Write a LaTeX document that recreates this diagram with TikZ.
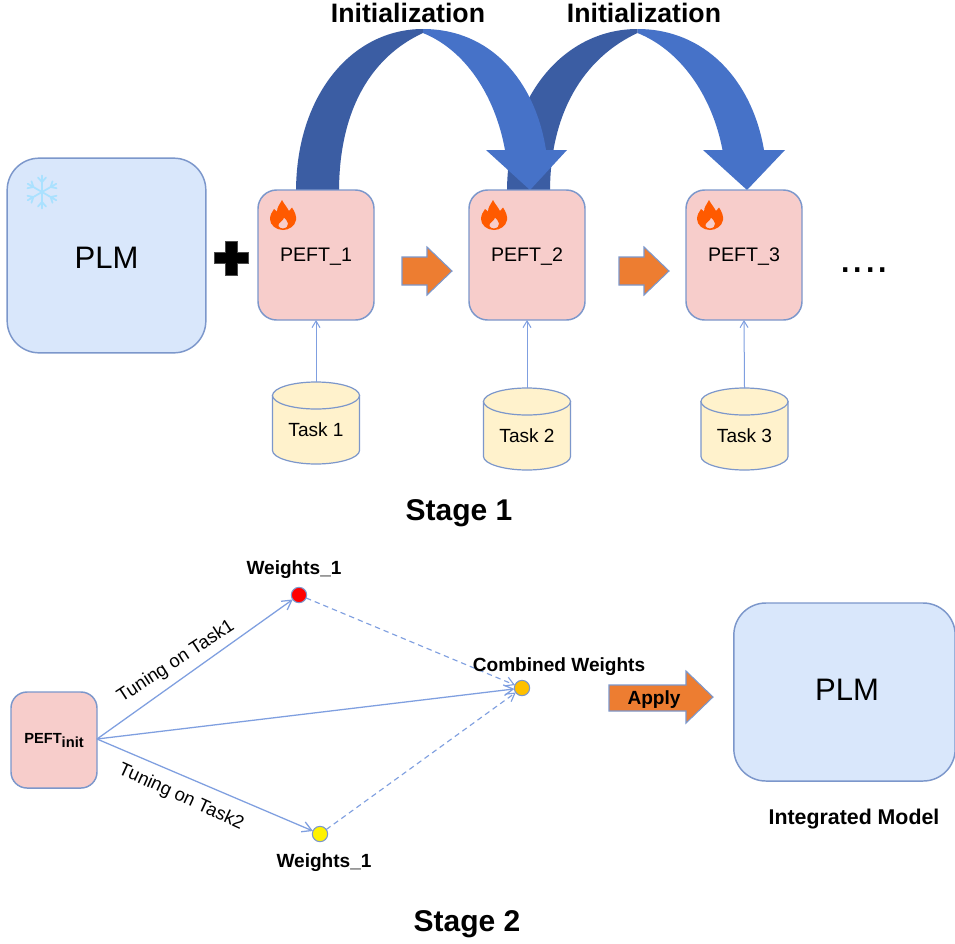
\documentclass[tikz,border=0pt]{standalone}
\usepackage{fontspec}
\setmainfont{Liberation Sans}
\usetikzlibrary{arrows.meta,calc}
\definecolor{edgeblue}{HTML}{7C97CB}
\definecolor{lineblue}{HTML}{7F9FE0}
\definecolor{plmfill}{HTML}{D9E7FB}
\definecolor{peftfill}{HTML}{F7CDCB}
\definecolor{taskfill}{HTML}{FFF2CC}
\definecolor{darkarc}{HTML}{3B5DA3}
\definecolor{lightarc}{HTML}{4672C8}
\definecolor{orangearrow}{HTML}{ED7D31}
\newcommand{\nudge}[2]{\raisebox{#1}[\height][\depth]{#2}}
\tikzset{
  px/.style={inner sep=0pt,outer sep=0pt},
  plmbox/.style={px,draw=edgeblue,fill=plmfill,line width=1.1pt,rounded corners=24pt,minimum width=149pt},
  peftbox/.style={px,draw=edgeblue,fill=peftfill,line width=1.1pt,rounded corners=14pt,minimum width=87pt,minimum height=97.5pt,font=\fontsize{14.7}{17}\selectfont},
  drumline/.style={draw=edgeblue,fill=taskfill,line width=0.9pt},
  tasklabel/.style={px,font=\fontsize{14.3}{17}\selectfont},
  feed/.style={draw=lineblue,line width=0.75pt,-{Straight Barb[length=5pt,width=6pt]}},
  tuned/.style={draw=lineblue,line width=0.95pt,-{Straight Barb[length=7pt,width=8pt]}},
  dashedlink/.style={draw=lineblue,line width=0.85pt,dash pattern=on 4pt off 3pt,-{Straight Barb[length=6pt,width=7pt]}},
  dotnode/.style={circle,px,draw=edgeblue,line width=0.8pt,minimum size=11.5pt},
  boldlabel/.style={px,yshift=-1.5pt,font=\bfseries\fontsize{14.3}{17}\selectfont},
  tunelabel/.style={px,font=\fontsize{13.9}{17}\selectfont},
  stagelabel/.style={px,yshift=-2.2pt,font=\bfseries\fontsize{22.5}{27}\selectfont},
  initlabel/.style={px,font=\bfseries\fontsize{20}{24}\selectfont},
  bigarrow/.style={draw=edgeblue,fill=orangearrow,line width=0.8pt,line join=miter},
  flame/.pic={
    \fill[even odd rule,fill={rgb,255:red,255;green,90;blue,0}]
      (-1,-15) .. controls (1,-11) and (4,-8) .. (6,-4)
      .. controls (7,-5) and (8,-6) .. (9,-7.5)
      .. controls (12,-3) and (13.5,1) .. (13,5)
      .. controls (12,11) and (6,15) .. (0,15)
      .. controls (-7,15) and (-13,10) .. (-13,4)
      .. controls (-13,0) and (-11,-3) .. (-9,-6)
      .. controls (-8,-5) and (-7,-4) .. (-6,-3.5)
      .. controls (-6,-8) and (-3,-11) .. (-1,-15) -- cycle
      (0,13.5) .. controls (3.5,13) and (5.5,11) .. (5,8.5)
      .. controls (4.5,6) and (2.5,4) .. (1,2.5)
      .. controls (0.5,4.5) and (-0.5,5.5) .. (-2,6.5)
      .. controls (-4,8) and (-5,10) .. (-4.5,11)
      .. controls (-4,12.5) and (-2,13.5) .. (0,13.5) -- cycle;
  },
  snowarm/.style={draw={rgb,255:red,170;green,225;blue,255},line width=1.3pt,line cap=round},
  snowflake/.pic={
    \foreach \a in {30,90,150,210,270,330}{
      \draw[snowarm,rotate=\a] (0,0) -- (16.5,0) (10,0) -- (14.5,4) (10,0) -- (14.5,-4);
    }
  }
}
% a task drum: centre x, top y, name, text
\newcommand{\taskdrum}[4]{%
  \draw[drumline] (#1-43.5,#2+13.5) -- (#1-43.5,#2+68.5) .. controls (#1-43.5,#2+76) and (#1-23,#2+82) .. (#1,#2+82) .. controls (#1+23,#2+82) and (#1+43.5,#2+76) .. (#1+43.5,#2+68.5) -- (#1+43.5,#2+13.5) -- cycle;
  \draw[drumline] (#1,#2+13.5) ellipse[x radius=43.5,y radius=13.5];
  \coordinate (#3top) at (#1,#2);
  \node[tasklabel] (#3) at (#1,#2+48) {#4};
}
\begin{document}
\begin{tikzpicture}[x=0.75pt,y=-0.75pt]
\useasboundingbox (0,0) rectangle (955,943);
\fill[white] (0,0) rectangle (955,943);

% Initialization arcs: second one first, the first lies over it
\fill[darkarc] (507,192) .. controls (507,95) and (565,29) .. (637.5,29)
  -- (637.5,33) .. controls (590,55) and (550,105) .. (550,192) -- cycle;
\fill[lightarc] (637.5,29) .. controls (705,29) and (752,80) .. (764,150)
  -- (785,150) -- (747,190) -- (703,150) -- (722.5,150)
  .. controls (712,95) and (680,50) .. (637.5,33) -- cycle;
\fill[darkarc] (296,192) .. controls (296,95) and (352,29) .. (423,29)
  -- (423,33) .. controls (375,55) and (339,105) .. (339,192) -- cycle;
\fill[lightarc] (423,29) .. controls (490,29) and (535,80) .. (546,150)
  -- (567,150) -- (530,190) -- (486,150) -- (505,150)
  .. controls (495,95) and (465,50) .. (423,33) -- cycle;
\node[initlabel] (init1) at (408,13) {Initialization};
\node[initlabel] (init2) at (644,13) {Initialization};

% Stage 1
\node[plmbox,minimum height=146pt,font=\fontsize{23.3}{28}\selectfont] (plmA) at (106.5,255.5) {\nudge{-1.5pt}{PLM}};
\pic at (42,192) {snowflake};
\fill[black,draw=black!70,line width=0.3pt] (225,241) -- (237,241) -- (237,252) -- (248,252) -- (248,263) -- (237,263) -- (237,275) -- (225,275) -- (225,263) -- (214,263) -- (214,252) -- (225,252) -- cycle;

\node[peftbox] (peftA) at (316,255) {\nudge{-1.5pt}{PEFT\_1}};
\node[peftbox] (peftB) at (527,255) {\nudge{-1.5pt}{PEFT\_2}};
\node[peftbox] (peftC) at (744,255) {\nudge{-1.5pt}{PEFT\_3}};
\pic at (283,215) {flame};
\pic at (494,215) {flame};
\pic at (710,215) {flame};

\draw[bigarrow] (402,257) -- (427,257) -- (427,247) -- (452,271) -- (427,295) -- (427,285) -- (402,285) -- cycle;
\draw[bigarrow] (619,257) -- (644,257) -- (644,247) -- (669,271) -- (644,295) -- (644,285) -- (619,285) -- cycle;
\node[px,anchor=base,font=\fontsize{33.5}{40}\selectfont] (dots) at (864.3,272) {....};

\taskdrum{316}{382}{taskA}{Task 1}
\taskdrum{527}{388}{taskB}{Task 2}
\taskdrum{744.5}{388}{taskC}{Task 3}
\draw[feed] (taskAtop) -- (peftA.south);
\draw[feed] (taskBtop) -- (peftB.south);
\draw[feed] (taskCtop) -- (peftC.south);
\node[stagelabel] (stageA) at (459,510) {Stage 1};

% Stage 2
\node[peftbox,minimum width=64.5pt,minimum height=72pt,rounded corners=12pt,font=\bfseries\fontsize{11}{13}\selectfont] (pinit) at (54,740) {\nudge{-0.5pt}{PEFT\raisebox{-2.5pt}{init}}};
\node[dotnode,fill=red] (wred) at (299,595) {};
\node[dotnode,fill=yellow] (wyel) at (320,834) {};
\node[dotnode,fill={rgb,255:red,255;green,192;blue,0}] (wcomb) at (522,688) {};
\coordinate (src) at (97,739);
\draw[tuned] (src) -- (wred);
\draw[tuned] (src) -- (wyel);
\draw[tuned] (src) -- (wcomb);
\draw[dashedlink] (wred) -- (wcomb);
\draw[dashedlink] (wyel) -- (wcomb);
\node[boldlabel] (lblW) at (294,568) {Weights\_1};
\node[boldlabel] (lblY) at (324,861) {Weights\_1};
\node[boldlabel] (lblC) at (559,665) {Combined Weights};
\node[tunelabel,rotate=33] (lblT) at (176,662) {Tuning on Task1};
\node[tunelabel,rotate=-24.5] (lblU) at (181,797) {Tuning on Task2};
\draw[bigarrow] (609,685) -- (686,685) -- (686,671) -- (713,697) -- (686,723) -- (686,711) -- (609,711) -- cycle;
\node[boldlabel] (applyl) at (654,698) {Apply};
\node[plmbox,minimum width=166pt,minimum height=133.5pt] (plmB) at (844.5,692) {};
\node[px,font=\fontsize{23.3}{28}\selectfont] (plmBt) at (847,690) {PLM};
\node[boldlabel,font=\bfseries\fontsize{16}{19}\selectfont] (lblI) at (854,817) {Integrated Model};
\node[stagelabel] (stageB) at (467,921) {Stage 2};
\end{tikzpicture}
\end{document}
